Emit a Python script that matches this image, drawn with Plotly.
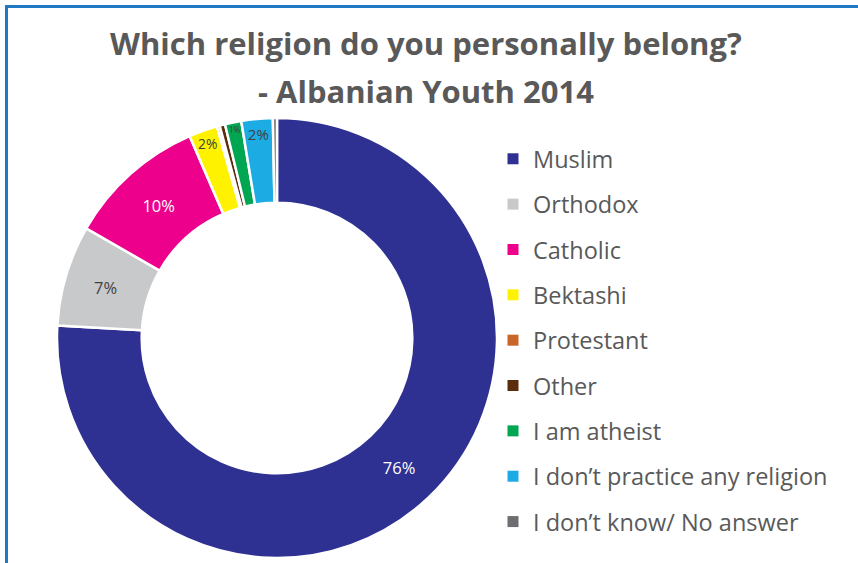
import plotly.graph_objects as go

categories = ["Muslim", "Orthodox", "Catholic", "Bektashi", "Protestant", "Other",
              "I am atheist", "I don\u2019t practice any religion", "I don\u2019t know/ No answer"]
shares = [75.9, 7.4, 10.2, 2.1, 0.2, 0.4, 1.2, 2.3, 0.3]
colors = ["#2E3192", "#C8C9CB", "#EC008C", "#FFF200", "#C8662A", "#5A2D0C",
          "#00A651", "#1CACE3", "#6D6E71"]
label_colors = ["#FFFFFF", "#404040", "#FFFFFF", "#404040", "#404040", "#404040",
                "#404040", "#404040", "#404040"]
title_lines = ["Which religion do you personally belong?", "- Albanian Youth 2014"]

labels_text = [f"{v:.0f}%" if v >= 0.5 else "" for v in shares]

W, H = 858, 563
FONT = "Open Sans"

fig = go.Figure()
fig.add_trace(go.Pie(
    labels=categories, values=shares, text=labels_text, textinfo="text",
    sort=False, direction="clockwise", rotation=0, hole=0.615,
    marker=dict(colors=colors, line=dict(color="white", width=2.5)),
    textposition="inside", insidetextorientation="horizontal",
    textfont=dict(family=FONT, size=16.5, color=label_colors),
    domain=dict(x=[57 / W, 497 / W], y=[1 - 558 / H, 1 - 118 / H]),
    showlegend=False, hoverinfo="label+percent",
))

for i, (c, col) in enumerate(zip(categories, colors)):
    fig.add_trace(go.Scatter(
        x=[None], y=[None], mode="markers", name=c, legendgroup=f"g{i}",
        marker=dict(symbol="square", size=11, color=col),
        showlegend=True, hoverinfo="skip",
    ))

title_centers_y = [43, 91]
annotations = [
    dict(text=f"<b>{t}</b>", x=426 / W, y=1 - yc / H, xref="paper", yref="paper",
         xanchor="center", yanchor="middle", showarrow=False,
         font=dict(family=FONT, size=31, color="#595959"))
    for t, yc in zip(title_lines, title_centers_y)
]

fig.update_layout(
    width=W, height=H,
    margin=dict(l=0, r=0, t=0, b=0),
    paper_bgcolor="white", plot_bgcolor="white",
    font=dict(family=FONT, color="#595959"),
    annotations=annotations,
    xaxis=dict(visible=False), yaxis=dict(visible=False),
    legend=dict(
        x=493 / W, xanchor="left", y=1 - 137 / H, yanchor="top",
        font=dict(family=FONT, size=23.5, color="#595959"),
        traceorder="grouped", tracegroupgap=11.8,
        bgcolor="rgba(0,0,0,0)",
    ),
    shapes=[
        dict(type="line", xref="paper", yref="paper", x0=6.5 / W, x1=6.5 / W,
             y0=0, y1=1 - 5.5 / H, line=dict(color="#1E78C2", width=3)),
        dict(type="line", xref="paper", yref="paper", x0=5 / W, x1=1,
             y0=1 - 6.5 / H, y1=1 - 6.5 / H, line=dict(color="#1E78C2", width=3)),
    ],
)

fig.write_html("out.html", config={"displayModeBar": False},
               post_script="document.body.style.margin='0px';")
